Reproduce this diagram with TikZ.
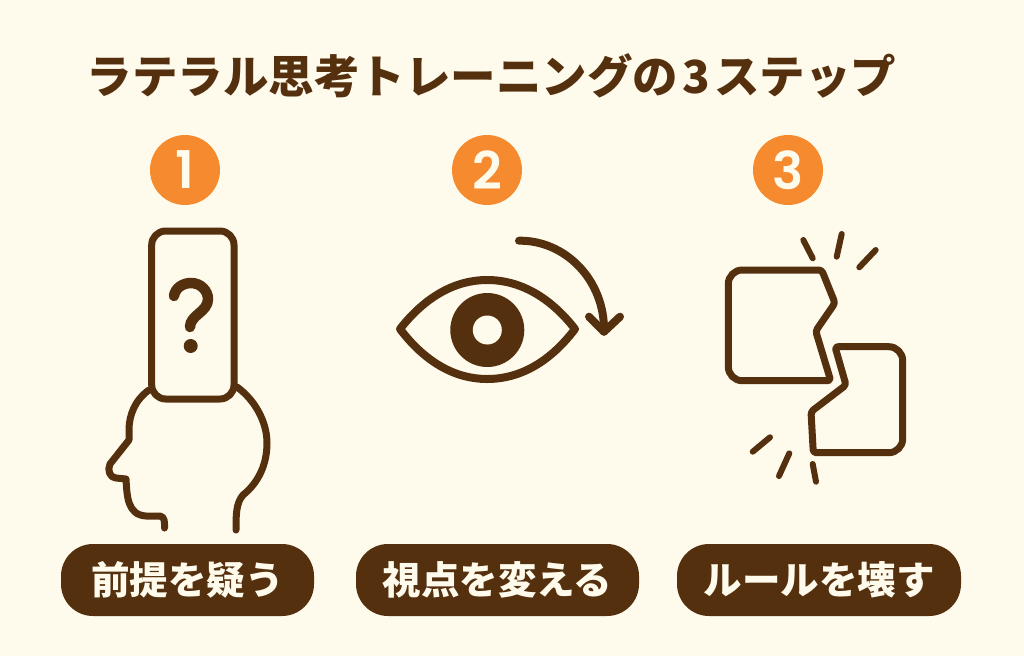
\documentclass[tikz,border=0pt]{standalone}
\usepackage{fontspec}
\newfontfamily\jpfont{Noto Sans CJK JP}
\newfontfamily\numfont{Poppins SemiBold}
\definecolor{bgcream}{HTML}{FFFBEC}
\definecolor{darkbrown}{HTML}{55300F}
\definecolor{steporange}{HTML}{F58A2E}
\tikzset{
	icon/.style={draw=darkbrown, line width=7pt, line cap=round, line join=round},
	badge/.style={circle, fill=steporange, minimum size=70pt, inner sep=0pt, text=bgcream, font=\numfont\fontsize{52}{52}\selectfont},
	pill/.style={rounded corners=32pt, fill=darkbrown, minimum height=72pt, inner sep=0pt, text=bgcream, font=\jpfont\bfseries\fontsize{38.5}{38.5}\selectfont},
}
\begin{document}
\begin{tikzpicture}[x=1pt, y=-1pt]
		\useasboundingbox [fill=bgcream] (0,0) rectangle (1024,656);

		% draw the title
		\node (title) at (491.5,76) [text=darkbrown, font=\jpfont\bfseries\fontsize{45.5}{45.5}\selectfont] {ラテラル思考トレーニングの\hspace{4pt}3\hspace{4pt}ステップ};

		% draw the numbers
		\node (one) at (185,170) [badge] {1};
		\node (two) at (487,170) [badge] {2};
		\node (three) at (788,170) [badge] {3};

		% draw the labels
		\node (doubt) at (187.5,580) [pill, minimum width=253pt] {前提を疑う};
		\node (view) at (497.5,580) [pill, minimum width=283pt] {視点を変える};
		\node (rule) at (819,580) [pill, minimum width=284pt] {ルールを壊す};

		% draw the head and the box on it
		\draw [icon, rounded corners=14pt] (151.7,231) rectangle (234,399);
		\draw [icon] (149,390) .. controls (135,400) and (129,415) .. (129,430) -- (129,440)
			-- (110,464) .. controls (107,470) and (110,478) .. (116,478) -- (126,479)
			.. controls (127,495) and (127,515) .. (146,516) -- (160,516)
			.. controls (165,517) and (164.5,522) .. (164.5,528);
		\draw [icon] (237,387) .. controls (255,400) and (267,422) .. (267,443)
			.. controls (267,465) and (258,483) .. (243,495)
			.. controls (236,503) and (236,515) .. (236,530);

		% draw the question mark
		\draw [icon, line width=10.5pt] (174,296) .. controls (175,288) and (183,283) .. (191,283)
			.. controls (201,283) and (208,291) .. (208,299)
			.. controls (208,312) and (190,315) .. (190,327);
		\fill [darkbrown] (190.7,346) circle (7);

		% draw the eye
		\draw [icon, line width=8pt] (400,329) .. controls (425,297) and (455,280) .. (487,280)
			.. controls (520,280) and (550,297) .. (575,329)
			.. controls (550,362) and (520,379) .. (487,379)
			.. controls (455,379) and (425,362) .. (400,329) -- cycle;
		\fill [darkbrown] (487.3,330) circle (37);
		\fill [bgcream] (487.3,330) circle (14.5);

		% draw the arrow
		\draw [icon, line width=8pt] (519,240.7) .. controls (565,240) and (605,280) .. (604,331.7);
		\draw [icon, line width=8pt] (589,316.7) -- (604,331.7) -- (620,316.7);

		% draw the broken pieces
		\draw [icon] [rounded corners=14pt] (760,270) -- (728.3,270) -- (728.3,380.7) -- (760,380.7)
			[rounded corners=3pt] -- (830.7,380.7) -- (815.7,331) -- (835,303) -- (821.7,270) -- cycle;
		\draw [icon] [rounded corners=3pt] (860,346.7) -- (835,346.7) -- (846,385) -- (811,411.7) -- (813.3,452.7)
			[rounded corners=14pt] -- (902.7,452.7) -- (902.7,346.7) -- cycle;

		% draw the cracks
		\draw [icon, line width=6pt] (803.3,240) -- (812.7,258.3);
		\draw [icon, line width=6pt] (841.7,234) -- (836.7,256.7);
		\draw [icon, line width=6pt] (875.7,250) -- (859.3,267.3);
		\draw [icon, line width=6pt] (770,437.3) -- (752.7,451.7);
		\draw [icon, line width=6pt] (789.3,453.3) -- (779,476);
		\draw [icon, line width=6pt] (812.7,464) -- (816,481.7);
\end{tikzpicture}
\end{document}
